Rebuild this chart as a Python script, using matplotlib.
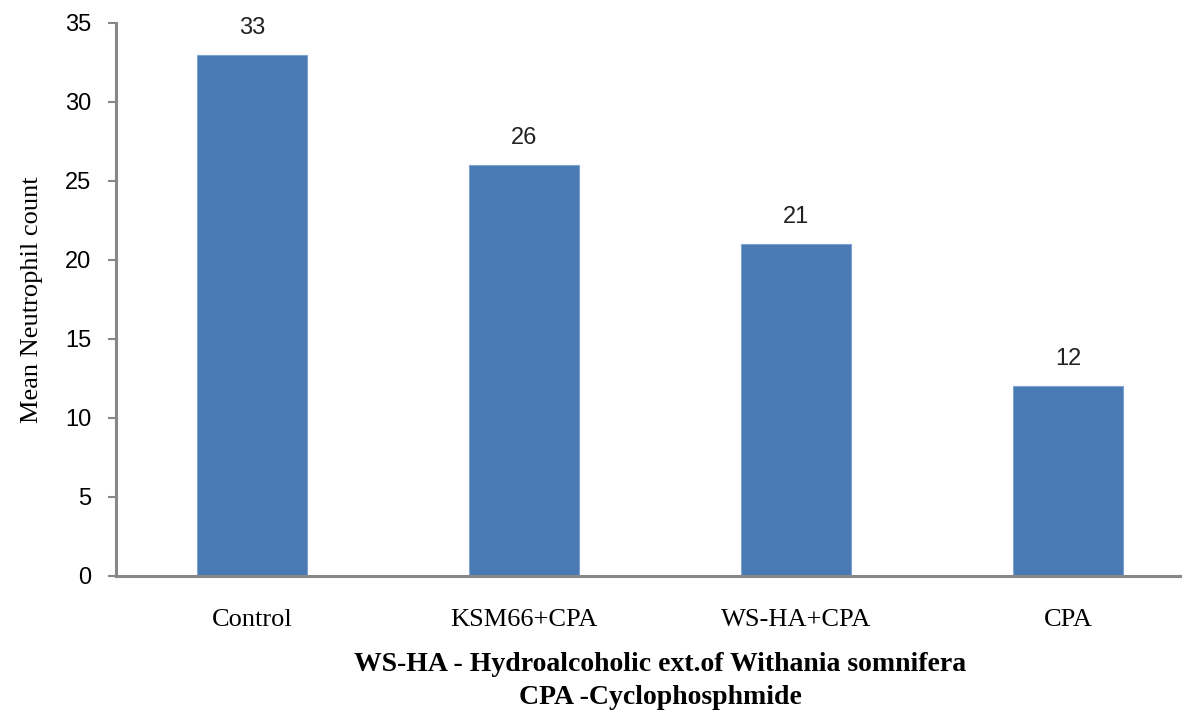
import matplotlib.pyplot as plt
import numpy as np

groups = ['Control', 'KSM66+CPA', 'WS-HA+CPA', 'CPA']
neutrophils = [33, 26, 21, 12]
y_ticks = [0, 5, 10, 15, 20, 25, 30, 35]

fig = plt.figure(figsize=(11.9, 7.18), dpi=100)
ax = fig.add_axes([0.0975, 0.198, 0.894, 0.770])

x = np.arange(len(groups))
bars = ax.bar(x, neutrophils, width=0.405, color='#4a7ab4', edgecolor='#7fa3d0', linewidth=0.8, zorder=2)

for xi, v in zip(x, neutrophils):
    ax.text(xi, v + 1.0, str(v), ha='center', va='bottom', fontsize=17,
            family='Liberation Sans', color='#222222')

ax.set_xlim(-0.5, 3.41)
ax.set_ylim(0, 35)
ax.set_yticks(y_ticks)
ax.set_yticklabels([str(t) for t in y_ticks], family='Liberation Sans', fontsize=17)
ax.set_xticks(x)
ax.set_xticklabels(groups, family='Liberation Serif', fontsize=19)
ax.tick_params(axis='x', length=0, pad=24)
ax.tick_params(axis='y', length=6, width=1.5, color='#888888', pad=12)

for s in ['top', 'right']:
    ax.spines[s].set_visible(False)
for s in ['left', 'bottom']:
    ax.spines[s].set_color('#888888')
    ax.spines[s].set_linewidth(2.2)

ax.set_ylabel('Mean Neutrophil count', family='Liberation Serif', fontsize=19, labelpad=16)

fig.text(0.555, 0.074, 'WS-HA - Hydroalcoholic ext.of Withania somnifera', ha='center', va='center',
         family='Liberation Serif', fontsize=20, fontweight='bold')
fig.text(0.555, 0.029, 'CPA -Cyclophosphmide', ha='center', va='center',
         family='Liberation Serif', fontsize=20, fontweight='bold')

fig.savefig('out.png', dpi=100)
